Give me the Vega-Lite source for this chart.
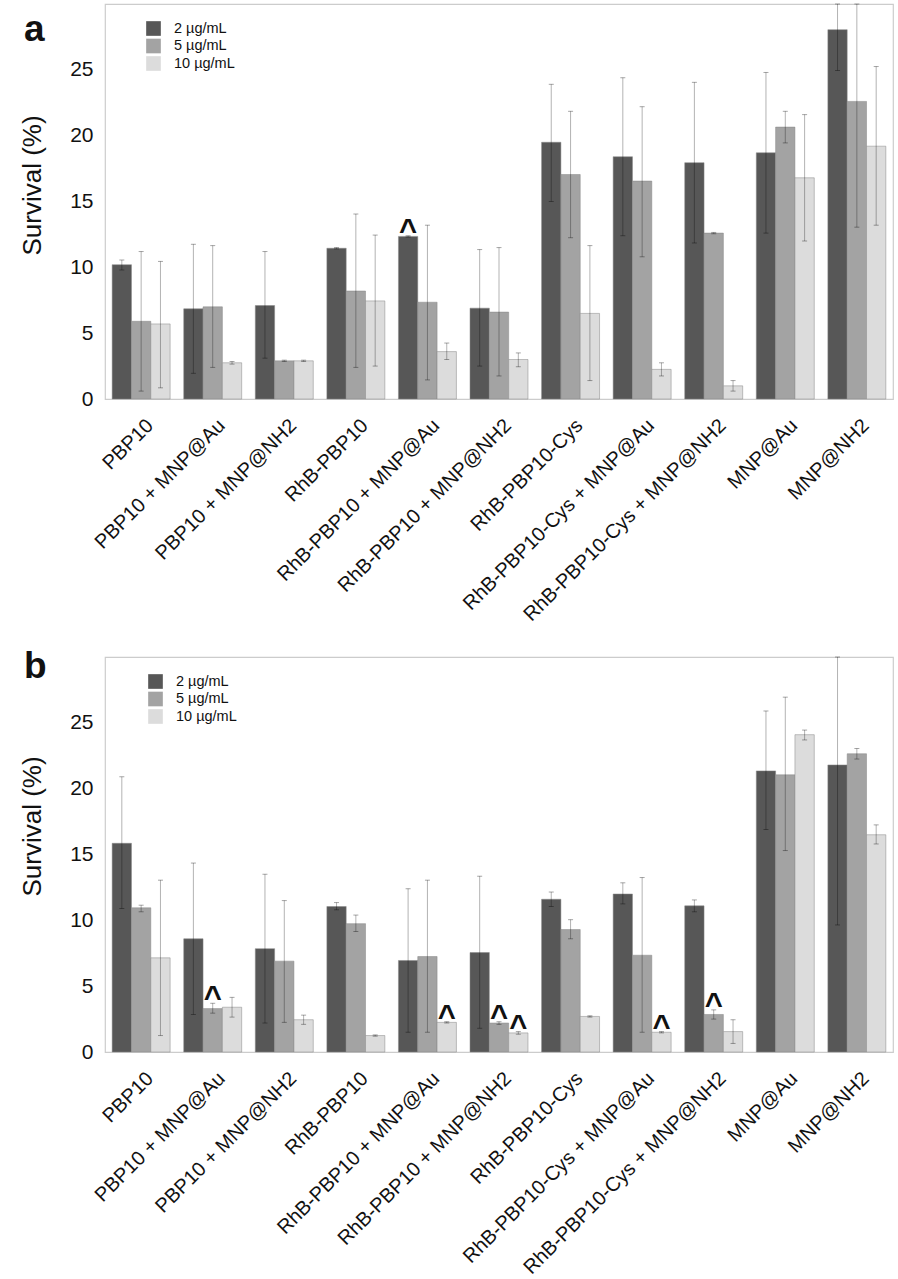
{
  "$schema": "https://vega.github.io/schema/vega-lite/v6.json",
  "padding": {"left": 18, "top": 2, "right": 5, "bottom": 0},
  "config": {
    "font": "Liberation Sans",
    "view": {"stroke": "#cccccc", "strokeWidth": 1.2},
    "axis": {"labelFont": "Liberation Sans", "titleFont": "Liberation Sans", "labelColor": "#111", "titleColor": "#111", "grid": false, "domain": false, "ticks": false, "tickSize": 0},
    "legend": {"orient": "none", "legendX": -81, "legendY": 17, "symbolType": "square", "symbolSize": 215, "symbolStrokeWidth": 0, "labelFontSize": 14.5, "labelColor": "#111", "labelOffset": 13, "rowPadding": 1.5, "padding": 0, "labelFont": "Liberation Sans",
               "titleOrient": "left", "titleAnchor": "start", "titleAlign": "left", "titleFont": "Liberation Sans", "titleFontSize": 37, "titleFontWeight": "bold", "titleColor": "#111", "titlePadding": 101}
  },
  "datasets": {
    "survival": [
      {"panel": "a", "group": "PBP10", "conc": "2 µg/mL", "value": 10.2, "lo": 9.8, "hi": 10.55},
      {"panel": "a", "group": "PBP10", "conc": "5 µg/mL", "value": 5.9, "lo": 0.6, "hi": 11.2},
      {"panel": "a", "group": "PBP10", "conc": "10 µg/mL", "value": 5.7, "lo": 0.85, "hi": 10.45},
      {"panel": "a", "group": "PBP10 + MNP@Au", "conc": "2 µg/mL", "value": 6.85, "lo": 1.95, "hi": 11.75},
      {"panel": "a", "group": "PBP10 + MNP@Au", "conc": "5 µg/mL", "value": 7.0, "lo": 2.4, "hi": 11.65},
      {"panel": "a", "group": "PBP10 + MNP@Au", "conc": "10 µg/mL", "value": 2.75, "lo": 2.65, "hi": 2.85},
      {"panel": "a", "group": "PBP10 + MNP@NH2", "conc": "2 µg/mL", "value": 7.1, "lo": 3.1, "hi": 11.2},
      {"panel": "a", "group": "PBP10 + MNP@NH2", "conc": "5 µg/mL", "value": 2.9, "lo": 2.85, "hi": 2.95},
      {"panel": "a", "group": "PBP10 + MNP@NH2", "conc": "10 µg/mL", "value": 2.9, "lo": 2.85, "hi": 2.95},
      {"panel": "a", "group": "RhB-PBP10", "conc": "2 µg/mL", "value": 11.45, "lo": 11.4, "hi": 11.5},
      {"panel": "a", "group": "RhB-PBP10", "conc": "5 µg/mL", "value": 8.2, "lo": 2.4, "hi": 14.05},
      {"panel": "a", "group": "RhB-PBP10", "conc": "10 µg/mL", "value": 7.45, "lo": 2.5, "hi": 12.45},
      {"panel": "a", "group": "RhB-PBP10 + MNP@Au", "conc": "2 µg/mL", "value": 12.35, "lo": 12.3, "hi": 12.4, "sig": "^"},
      {"panel": "a", "group": "RhB-PBP10 + MNP@Au", "conc": "5 µg/mL", "value": 7.35, "lo": 1.45, "hi": 13.2},
      {"panel": "a", "group": "RhB-PBP10 + MNP@Au", "conc": "10 µg/mL", "value": 3.6, "lo": 3.0, "hi": 4.25},
      {"panel": "a", "group": "RhB-PBP10 + MNP@NH2", "conc": "2 µg/mL", "value": 6.9, "lo": 2.5, "hi": 11.35},
      {"panel": "a", "group": "RhB-PBP10 + MNP@NH2", "conc": "5 µg/mL", "value": 6.6, "lo": 1.75, "hi": 11.5},
      {"panel": "a", "group": "RhB-PBP10 + MNP@NH2", "conc": "10 µg/mL", "value": 3.0, "lo": 2.45, "hi": 3.5},
      {"panel": "a", "group": "RhB-PBP10-Cys", "conc": "2 µg/mL", "value": 19.5, "lo": 15.0, "hi": 23.9},
      {"panel": "a", "group": "RhB-PBP10-Cys", "conc": "5 µg/mL", "value": 17.05, "lo": 12.25, "hi": 21.85},
      {"panel": "a", "group": "RhB-PBP10-Cys", "conc": "10 µg/mL", "value": 6.5, "lo": 1.4, "hi": 11.65},
      {"panel": "a", "group": "RhB-PBP10-Cys + MNP@Au", "conc": "2 µg/mL", "value": 18.4, "lo": 12.4, "hi": 24.4},
      {"panel": "a", "group": "RhB-PBP10-Cys + MNP@Au", "conc": "5 µg/mL", "value": 16.55, "lo": 10.8, "hi": 22.2},
      {"panel": "a", "group": "RhB-PBP10-Cys + MNP@Au", "conc": "10 µg/mL", "value": 2.25, "lo": 1.75, "hi": 2.75},
      {"panel": "a", "group": "RhB-PBP10-Cys + MNP@NH2", "conc": "2 µg/mL", "value": 17.95, "lo": 11.85, "hi": 24.05},
      {"panel": "a", "group": "RhB-PBP10-Cys + MNP@NH2", "conc": "5 µg/mL", "value": 12.6, "lo": 12.55, "hi": 12.65},
      {"panel": "a", "group": "RhB-PBP10-Cys + MNP@NH2", "conc": "10 µg/mL", "value": 1.0, "lo": 0.6, "hi": 1.4},
      {"panel": "a", "group": "MNP@Au", "conc": "2 µg/mL", "value": 18.7, "lo": 12.6, "hi": 24.8},
      {"panel": "a", "group": "MNP@Au", "conc": "5 µg/mL", "value": 20.65, "lo": 19.45, "hi": 21.85},
      {"panel": "a", "group": "MNP@Au", "conc": "10 µg/mL", "value": 16.8, "lo": 12.0, "hi": 21.6},
      {"panel": "a", "group": "MNP@NH2", "conc": "2 µg/mL", "value": 28.05, "lo": 24.95, "hi": 31.2},
      {"panel": "a", "group": "MNP@NH2", "conc": "5 µg/mL", "value": 22.6, "lo": 13.05, "hi": 32.1},
      {"panel": "a", "group": "MNP@NH2", "conc": "10 µg/mL", "value": 19.2, "lo": 13.2, "hi": 25.25},

      {"panel": "b", "group": "PBP10", "conc": "2 µg/mL", "value": 15.85, "lo": 10.9, "hi": 20.9},
      {"panel": "b", "group": "PBP10", "conc": "5 µg/mL", "value": 10.95, "lo": 10.65, "hi": 11.15},
      {"panel": "b", "group": "PBP10", "conc": "10 µg/mL", "value": 7.15, "lo": 1.25, "hi": 13.05},
      {"panel": "b", "group": "PBP10 + MNP@Au", "conc": "2 µg/mL", "value": 8.6, "lo": 2.85, "hi": 14.35},
      {"panel": "b", "group": "PBP10 + MNP@Au", "conc": "5 µg/mL", "value": 3.3, "lo": 2.95, "hi": 3.7, "sig": "^"},
      {"panel": "b", "group": "PBP10 + MNP@Au", "conc": "10 µg/mL", "value": 3.4, "lo": 2.65, "hi": 4.15},
      {"panel": "b", "group": "PBP10 + MNP@NH2", "conc": "2 µg/mL", "value": 7.85, "lo": 2.2, "hi": 13.5},
      {"panel": "b", "group": "PBP10 + MNP@NH2", "conc": "5 µg/mL", "value": 6.9, "lo": 2.25, "hi": 11.5},
      {"panel": "b", "group": "PBP10 + MNP@NH2", "conc": "10 µg/mL", "value": 2.45, "lo": 2.1, "hi": 2.8},
      {"panel": "b", "group": "RhB-PBP10", "conc": "2 µg/mL", "value": 11.05, "lo": 10.8, "hi": 11.35},
      {"panel": "b", "group": "RhB-PBP10", "conc": "5 µg/mL", "value": 9.75, "lo": 9.15, "hi": 10.4},
      {"panel": "b", "group": "RhB-PBP10", "conc": "10 µg/mL", "value": 1.25, "lo": 1.2, "hi": 1.3},
      {"panel": "b", "group": "RhB-PBP10 + MNP@Au", "conc": "2 µg/mL", "value": 6.95, "lo": 1.5, "hi": 12.4},
      {"panel": "b", "group": "RhB-PBP10 + MNP@Au", "conc": "5 µg/mL", "value": 7.25, "lo": 1.5, "hi": 13.05},
      {"panel": "b", "group": "RhB-PBP10 + MNP@Au", "conc": "10 µg/mL", "value": 2.25, "lo": 2.2, "hi": 2.3, "sig": "^"},
      {"panel": "b", "group": "RhB-PBP10 + MNP@NH2", "conc": "2 µg/mL", "value": 7.55, "lo": 1.8, "hi": 13.35},
      {"panel": "b", "group": "RhB-PBP10 + MNP@NH2", "conc": "5 µg/mL", "value": 2.2, "lo": 2.1, "hi": 2.3, "sig": "^"},
      {"panel": "b", "group": "RhB-PBP10 + MNP@NH2", "conc": "10 µg/mL", "value": 1.45, "lo": 1.35, "hi": 1.55, "sig": "^"},
      {"panel": "b", "group": "RhB-PBP10-Cys", "conc": "2 µg/mL", "value": 11.6, "lo": 11.05, "hi": 12.15},
      {"panel": "b", "group": "RhB-PBP10-Cys", "conc": "5 µg/mL", "value": 9.3, "lo": 8.6, "hi": 10.05},
      {"panel": "b", "group": "RhB-PBP10-Cys", "conc": "10 µg/mL", "value": 2.7, "lo": 2.65, "hi": 2.75},
      {"panel": "b", "group": "RhB-PBP10-Cys + MNP@Au", "conc": "2 µg/mL", "value": 12.0, "lo": 11.25, "hi": 12.85},
      {"panel": "b", "group": "RhB-PBP10-Cys + MNP@Au", "conc": "5 µg/mL", "value": 7.35, "lo": 1.5, "hi": 13.25},
      {"panel": "b", "group": "RhB-PBP10-Cys + MNP@Au", "conc": "10 µg/mL", "value": 1.5, "lo": 1.45, "hi": 1.55, "sig": "^"},
      {"panel": "b", "group": "RhB-PBP10-Cys + MNP@NH2", "conc": "2 µg/mL", "value": 11.1, "lo": 10.65, "hi": 11.55},
      {"panel": "b", "group": "RhB-PBP10-Cys + MNP@NH2", "conc": "5 µg/mL", "value": 2.85, "lo": 2.5, "hi": 3.2, "sig": "^"},
      {"panel": "b", "group": "RhB-PBP10-Cys + MNP@NH2", "conc": "10 µg/mL", "value": 1.55, "lo": 0.65, "hi": 2.45},
      {"panel": "b", "group": "MNP@Au", "conc": "2 µg/mL", "value": 21.35, "lo": 16.9, "hi": 25.9},
      {"panel": "b", "group": "MNP@Au", "conc": "5 µg/mL", "value": 21.05, "lo": 15.3, "hi": 26.95},
      {"panel": "b", "group": "MNP@Au", "conc": "10 µg/mL", "value": 24.1, "lo": 23.7, "hi": 24.45},
      {"panel": "b", "group": "MNP@NH2", "conc": "2 µg/mL", "value": 21.8, "lo": 9.65, "hi": 33.9},
      {"panel": "b", "group": "MNP@NH2", "conc": "5 µg/mL", "value": 22.65, "lo": 22.25, "hi": 23.05},
      {"panel": "b", "group": "MNP@NH2", "conc": "10 µg/mL", "value": 16.5, "lo": 15.8, "hi": 17.25}
    ]
  },
  "spacing": 29,
  "resolve": {"scale": {"color": "independent"}, "legend": {"color": "independent"}},
  "vconcat": [
    {
      "width": 788,
      "height": 395,
      "data": {"name": "survival"},
      "transform": [{"filter": "datum.panel === 'a'"}],
      "encoding": {
        "x": {"field": "group", "type": "nominal", "title": null,
              "sort": ["PBP10", "PBP10 + MNP@Au", "PBP10 + MNP@NH2", "RhB-PBP10", "RhB-PBP10 + MNP@Au", "RhB-PBP10 + MNP@NH2", "RhB-PBP10-Cys", "RhB-PBP10-Cys + MNP@Au", "RhB-PBP10-Cys + MNP@NH2", "MNP@Au", "MNP@NH2"],
              "scale": {"paddingInner": 0.19, "paddingOuter": 0.1},
              "axis": {"labelAngle": -45, "labelAlign": "right", "labelBaseline": "top", "labelFontSize": 20, "labelOffset": 2, "labelPadding": 16, "labelLimit": 400}},
        "xOffset": {"field": "conc", "type": "nominal", "sort": ["2 µg/mL", "5 µg/mL", "10 µg/mL"], "scale": {"paddingInner": 0, "paddingOuter": 0}}
      },
      "layer": [
        {
          "mark": {"type": "bar", "stroke": "#888888", "strokeOpacity": 0.5, "strokeWidth": 1},
          "encoding": {
            "y": {"field": "value", "type": "quantitative", "title": "Survival (%)",
                  "scale": {"domain": [0, 30], "nice": false, "clamp": true},
                  "axis": {"values": [0, 5, 10, 15, 20, 25], "labelFontSize": 21, "labelPadding": 12, "titleFontSize": 26, "titleFontWeight": "normal", "titleX": -65, "titleY": 181, "titleBaseline": "alphabetic", "titleAngle": -90}},
            "color": {"field": "conc", "type": "nominal", "sort": ["2 µg/mL", "5 µg/mL", "10 µg/mL"],
                      "scale": {"domain": ["2 µg/mL", "5 µg/mL", "10 µg/mL"], "range": ["#575757", "#a3a3a3", "#dcdcdc"]},
                      "legend": {"title": "a", "titleBaseline": "line-top", "titleLineHeight": 19}}
          }
        },
        {
          "mark": {"type": "rule", "color": "#000000", "opacity": 0.3, "strokeWidth": 1},
          "encoding": {"y": {"field": "lo", "type": "quantitative", "title": "Survival (%)"}, "y2": {"field": "hi"}}
        },
        {
          "mark": {"type": "tick", "color": "#000000", "opacity": 0.35, "size": 5, "thickness": 1},
          "encoding": {"y": {"field": "lo", "type": "quantitative", "title": "Survival (%)"}}
        },
        {
          "mark": {"type": "tick", "color": "#000000", "opacity": 0.35, "size": 5, "thickness": 1},
          "encoding": {"y": {"field": "hi", "type": "quantitative", "title": "Survival (%)"}}
        },
        {
          "transform": [{"filter": "datum.sig"}],
          "mark": {"type": "text", "fontSize": 31, "fontWeight": "bold", "color": "#111", "baseline": "alphabetic", "dy": 5},
          "encoding": {"y": {"field": "hi", "type": "quantitative", "title": "Survival (%)"}, "text": {"field": "sig"}}
        }
      ]
    },
    {
      "width": 788,
      "height": 395,
      "data": {"name": "survival"},
      "transform": [{"filter": "datum.panel === 'b'"}],
      "encoding": {
        "x": {"field": "group", "type": "nominal", "title": null,
              "sort": ["PBP10", "PBP10 + MNP@Au", "PBP10 + MNP@NH2", "RhB-PBP10", "RhB-PBP10 + MNP@Au", "RhB-PBP10 + MNP@NH2", "RhB-PBP10-Cys", "RhB-PBP10-Cys + MNP@Au", "RhB-PBP10-Cys + MNP@NH2", "MNP@Au", "MNP@NH2"],
              "scale": {"paddingInner": 0.19, "paddingOuter": 0.1},
              "axis": {"labelAngle": -45, "labelAlign": "right", "labelBaseline": "top", "labelFontSize": 20, "labelOffset": 2, "labelPadding": 16, "labelLimit": 400}},
        "xOffset": {"field": "conc", "type": "nominal", "sort": ["2 µg/mL", "5 µg/mL", "10 µg/mL"], "scale": {"paddingInner": 0, "paddingOuter": 0}}
      },
      "layer": [
        {
          "mark": {"type": "bar", "stroke": "#888888", "strokeOpacity": 0.5, "strokeWidth": 1},
          "encoding": {
            "y": {"field": "value", "type": "quantitative", "title": "Survival (%)",
                  "scale": {"domain": [0, 30], "nice": false, "clamp": true},
                  "axis": {"values": [0, 5, 10, 15, 20, 25], "labelFontSize": 21, "labelPadding": 12, "titleFontSize": 26, "titleFontWeight": "normal", "titleX": -65, "titleY": 169, "titleBaseline": "alphabetic", "titleAngle": -90}},
            "color": {"field": "conc", "type": "nominal", "sort": ["2 µg/mL", "5 µg/mL", "10 µg/mL"],
                      "scale": {"domain": ["2 µg/mL", "5 µg/mL", "10 µg/mL"], "range": ["#575757", "#a3a3a3", "#dcdcdc"]},
                      "legend": {"title": "b", "titleBaseline": "line-bottom", "titleLineHeight": 13.5}}
          }
        },
        {
          "mark": {"type": "rule", "color": "#000000", "opacity": 0.3, "strokeWidth": 1},
          "encoding": {"y": {"field": "lo", "type": "quantitative", "title": "Survival (%)"}, "y2": {"field": "hi"}}
        },
        {
          "mark": {"type": "tick", "color": "#000000", "opacity": 0.35, "size": 5, "thickness": 1},
          "encoding": {"y": {"field": "lo", "type": "quantitative", "title": "Survival (%)"}}
        },
        {
          "mark": {"type": "tick", "color": "#000000", "opacity": 0.35, "size": 5, "thickness": 1},
          "encoding": {"y": {"field": "hi", "type": "quantitative", "title": "Survival (%)"}}
        },
        {
          "transform": [{"filter": "datum.sig"}],
          "mark": {"type": "text", "fontSize": 31, "fontWeight": "bold", "color": "#111", "baseline": "alphabetic", "dy": 5},
          "encoding": {"y": {"field": "hi", "type": "quantitative", "title": "Survival (%)"}, "text": {"field": "sig"}}
        }
      ]
    }
  ]
}
